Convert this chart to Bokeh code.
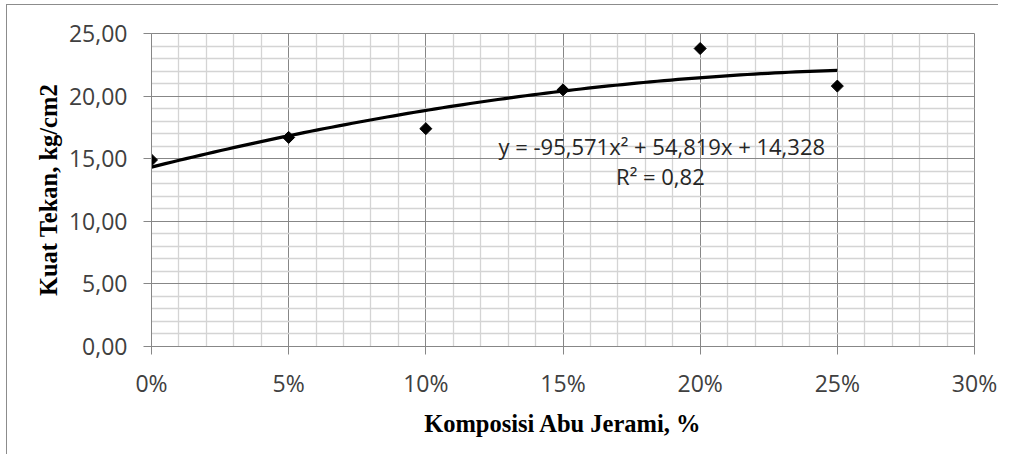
import numpy as np
from bokeh.plotting import figure
from bokeh.models import FixedTicker, Label, Range1d
from bokeh.embed import file_html
from bokeh.resources import INLINE

# ---- data ----
komposisi = [0.00, 0.05, 0.10, 0.15, 0.20, 0.25]
kuat_tekan = [14.9, 16.7, 17.4, 20.5, 23.8, 20.8]

# trendline coefficients (as printed on the chart)
coef_a, coef_b, coef_c = -95.571, 54.819, 14.328
r_squared = "0,82"

x_ticks = [0.00, 0.05, 0.10, 0.15, 0.20, 0.25, 0.30]
x_tick_labels = ["0%", "5%", "10%", "15%", "20%", "25%", "30%"]
y_ticks = [0, 5, 10, 15, 20, 25]
y_tick_labels = ["0,00", "5,00", "10,00", "15,00", "20,00", "25,00"]

eq_text = "y = -95,571x\u00b2 + 54,819x + 14,328"
r2_text = "R\u00b2 = " + r_squared

# ---- figure ----
MAJ = "#878787"
MIN = "#d4d4d4"
FONT = "Open Sans"

p = figure(width=992, height=450, output_backend="svg", toolbar_location=None,
           x_range=Range1d(0, 0.30), y_range=Range1d(0, 25),
           min_border_left=144, min_border_right=25, min_border_top=28,
           min_border_bottom=109, background_fill_color="white",
           border_fill_color="white", outline_line_color=MAJ)
p.styles = {"border-left": "1px solid #8c8c8c", "border-top": "1px solid #8c8c8c",
            "margin-left": "6px", "margin-top": "4px"}

xminor = [i / 100 for i in range(0, 31) if i % 5 != 0]
yminor = [i for i in range(0, 26) if i % 5 != 0]
p.xaxis.ticker = FixedTicker(ticks=x_ticks, minor_ticks=xminor)
p.yaxis.ticker = FixedTicker(ticks=y_ticks, minor_ticks=yminor)
p.xaxis.major_label_overrides = {t: l for t, l in zip(x_ticks, x_tick_labels)}
p.yaxis.major_label_overrides = {t: l for t, l in zip(y_ticks, y_tick_labels)}

for ax in (p.xaxis, p.yaxis):
    ax.axis_line_color = MAJ
    ax.major_tick_line_color = MAJ
    ax.major_tick_in = 0
    ax.major_tick_out = 8
    ax.minor_tick_line_color = None
    ax.major_label_text_font = FONT
    ax.major_label_text_font_size = "23px"
    ax.major_label_text_color = "#404040"
    ax.axis_label_text_font = "Liberation Serif"
    ax.axis_label_text_font_style = "bold"
    ax.axis_label_text_font_size = "24.5px"
    ax.axis_label_text_color = "black"

p.xaxis.axis_label = "Komposisi Abu Jerami, %"
p.yaxis.axis_label = "Kuat Tekan, kg/cm2"
p.xaxis.major_label_standoff = 12
p.xaxis.axis_label_standoff = 8
p.yaxis.major_label_standoff = 16
p.yaxis.axis_label_standoff = 4

for g in (p.xgrid, p.ygrid):
    g.grid_line_color = MAJ
    g.grid_line_width = 1
    g.minor_grid_line_color = MIN
    g.minor_grid_line_width = 1.3

# trendline
xs = np.linspace(komposisi[0], komposisi[-1], 100)
ys = coef_a * xs ** 2 + coef_b * xs + coef_c
p.line(xs, ys, line_color="black", line_width=3.2)

# data points
p.scatter(komposisi, kuat_tekan, marker="square", angle=np.pi / 4, size=8.5,
          fill_color="black", line_color="black")

p.add_layout(Label(x=0.186, y=16.05, text=eq_text, text_align="center",
                   text_baseline="middle", text_font=FONT,
                   text_font_size="22px", text_color="#262626"))
p.add_layout(Label(x=0.1855, y=13.6, text=r2_text, text_align="center",
                   text_baseline="middle", text_font=FONT,
                   text_font_size="22px", text_color="#262626"))

open("out.html", "w").write(file_html(p, INLINE))
